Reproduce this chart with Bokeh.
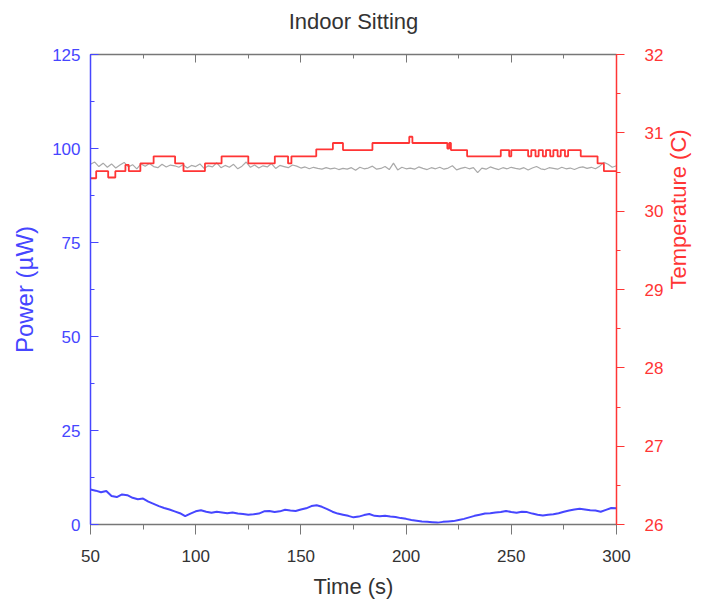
import math
import numpy as np
from bokeh.plotting import figure
from bokeh.models import Range1d, LinearAxis, SingleIntervalTicker, CustomJSTickFormatter
from bokeh.embed import file_html
from bokeh.resources import INLINE

# ---------------- data ----------------
title_text = "Indoor Sitting"
x_label = "Time (s)"
left_label = "Power (µW)"
right_label = "Temperature (C)"

# Power (uW), sampled every 2.5 s from 50 to 300 s
power_t = np.arange(50, 300.01, 2.5)
power_v = [9.3, 9.0, 8.6, 8.9, 7.6, 7.3, 8.0, 7.8, 7.1, 6.7,
           6.9, 6.1, 5.5, 4.9, 4.4, 4.0, 3.5, 3.0, 2.2, 2.9,
           3.5, 3.8, 3.4, 3.1, 3.4, 3.2, 3.0, 3.2, 2.9, 2.8,
           2.6, 2.7, 2.9, 3.5, 3.6, 3.3, 3.5, 3.9, 3.7, 3.6,
           4.0, 4.3, 4.9, 5.1, 4.7, 4.1, 3.4, 2.9, 2.6, 2.3,
           1.9, 2.1, 2.5, 2.8, 2.3, 2.2, 2.3, 2.1, 2.0, 1.7,
           1.5, 1.2, 1.0, 0.8, 0.7, 0.6, 0.5, 0.7, 0.8, 0.9,
           1.2, 1.5, 1.9, 2.3, 2.6, 2.9, 3.0, 3.2, 3.3, 3.6,
           3.3, 3.1, 3.4, 3.3, 2.9, 2.6, 2.4, 2.6, 2.7, 3.0,
           3.4, 3.7, 4.0, 4.2, 4.0, 3.8, 3.7, 3.4, 3.9, 4.4,
           4.3]

# Grey reference trace (left axis), sampled every 2 s from 50 to 300 s
grey_t = np.arange(50, 300.01, 2)
grey_v = [95.8, 96.4, 95.2, 96.1, 95.0, 95.9, 94.8, 95.6, 96.3, 95.1, 95.7, 94.6, 95.9, 95.3, 96.0, 95.2, 94.9, 95.8, 95.1, 95.6, 95.4,
          95.0, 95.7, 94.8, 95.5, 95.2, 95.9, 94.7, 95.4, 95.1, 96.2, 94.9, 95.5, 95.0, 95.8, 94.6, 95.3, 96.4, 95.0, 95.6, 94.8,
          95.4, 95.1, 96.0, 94.7, 95.5, 95.2, 94.9, 95.6, 95.3, 94.8, 95.1, 94.6, 95.0, 94.7, 94.5, 94.9, 94.6, 94.8, 94.4, 94.7,
          94.5, 94.9, 94.2, 95.0, 94.6, 94.8, 95.3, 94.5, 94.7, 95.2, 94.4, 96.1, 94.3, 95.0, 94.6, 94.8, 94.5, 95.1, 94.7, 94.4,
          94.9, 94.6, 95.0, 94.5, 94.8, 95.4, 94.3, 94.7, 95.0, 94.6, 94.9, 93.6, 94.8, 94.5, 95.1, 94.7, 94.4, 94.9, 94.6, 95.0,
          94.7, 94.5, 94.9, 94.3, 94.8, 95.2, 94.6, 94.4, 94.9, 94.7, 94.5, 95.0, 94.6, 94.8, 94.4, 94.9, 95.1, 94.7, 95.0, 94.6,
          95.3, 96.3, 95.8, 95.0, 95.4]

# Temperature (C): step change points
temp_t = [50, 52.7, 58.4, 61.8, 66.6, 68.2, 73.7, 80, 90.2, 94.2,
          104.4, 112.3, 125, 137.6, 143.9, 145.5, 157.3, 165.2, 170, 184,
          201.5, 203, 219.6, 220.5, 221.3, 229, 245, 249, 250, 258,
          259.5, 261.5, 263, 265, 266.5, 268.5, 270, 272, 273.5, 275.5,
          277, 283, 291, 294, 300]
temp_v = [30.42, 30.51, 30.43, 30.51, 30.59, 30.51, 30.61, 30.70, 30.61, 30.51,
          30.61, 30.70, 30.61, 30.70, 30.61, 30.70, 30.79, 30.87, 30.78, 30.87,
          30.95, 30.87, 30.80, 30.87, 30.78, 30.70, 30.78, 30.70, 30.78, 30.70,
          30.78, 30.70, 30.78, 30.70, 30.78, 30.70, 30.78, 30.70, 30.78, 30.70,
          30.78, 30.70, 30.61, 30.51, 30.51]

# ---------------- style ----------------
FONT = "Liberation Sans"
BLUE = "#4646ff"
RED = "#ff3535"
GREY_AX = "#777777"
TXT = "#333333"

p = figure(width=706, height=604,
           x_range=Range1d(50, 300), y_range=Range1d(0, 125),
           output_backend="svg", toolbar_location=None,
           x_axis_location=None, y_axis_location=None,
           min_border_left=90, min_border_right=88,
           min_border_top=54, min_border_bottom=80)
p.extra_y_ranges = {"temp": Range1d(26, 32)}
p.grid.grid_line_color = None
p.outline_line_color = None
p.background_fill_color = "white"
p.border_fill_color = "white"

# bottom axis
xb = LinearAxis(ticker=SingleIntervalTicker(interval=50, num_minor_ticks=2),
                axis_label=x_label)
xb.axis_line_color = GREY_AX
xb.axis_line_width = 1.5
xb.major_tick_line_color = GREY_AX
xb.minor_tick_line_color = GREY_AX
xb.major_tick_in = 0
xb.major_tick_out = 10
xb.minor_tick_in = 0
xb.minor_tick_out = 5
xb.major_label_text_font = FONT
xb.major_label_text_font_size = "17px"
xb.major_label_text_color = TXT
xb.major_label_standoff = 15
xb.axis_label_text_font = FONT
xb.axis_label_text_font_size = "22px"
xb.axis_label_text_font_style = "normal"
xb.axis_label_text_color = TXT
xb.axis_label_standoff = 9
p.add_layout(xb, "below")

# top axis: ticks only, chart title carried as its label
xt = LinearAxis(ticker=SingleIntervalTicker(interval=50, num_minor_ticks=2),
                formatter=CustomJSTickFormatter(code="return ''"),
                axis_label=title_text)
xt.axis_line_color = GREY_AX
xt.axis_line_width = 1.5
xt.major_tick_line_color = GREY_AX
xt.minor_tick_line_color = GREY_AX
xt.major_tick_in = 8
xt.major_tick_out = 0
xt.minor_tick_in = 4
xt.minor_tick_out = 0
xt.major_label_standoff = 0
xt.major_label_text_font_size = "1px"
xt.axis_label_text_font = FONT
xt.axis_label_text_font_size = "22px"
xt.axis_label_text_font_style = "normal"
xt.axis_label_text_color = TXT
xt.axis_label_standoff = 21
p.add_layout(xt, "above")

# left axis (power)
yl = LinearAxis(ticker=SingleIntervalTicker(interval=25, num_minor_ticks=2),
                axis_label=left_label)
yl.axis_line_color = BLUE
yl.axis_line_width = 1.5
yl.major_tick_line_color = BLUE
yl.minor_tick_line_color = BLUE
yl.major_tick_in = 8
yl.major_tick_out = 0
yl.minor_tick_in = 4
yl.minor_tick_out = 0
yl.major_label_text_font = FONT
yl.major_label_text_font_size = "17px"
yl.major_label_text_color = BLUE
yl.major_label_standoff = 10
yl.axis_label_text_font = FONT
yl.axis_label_text_font_size = "24px"
yl.axis_label_text_font_style = "normal"
yl.axis_label_text_color = BLUE
yl.axis_label_standoff = 11
p.add_layout(yl, "left")

# right axis (temperature)
yr = LinearAxis(y_range_name="temp",
                ticker=SingleIntervalTicker(interval=1, num_minor_ticks=2),
                axis_label=right_label)
yr.axis_line_color = RED
yr.axis_line_width = 1.5
yr.major_tick_line_color = RED
yr.minor_tick_line_color = RED
yr.major_tick_in = 0
yr.major_tick_out = 8
yr.minor_tick_in = 0
yr.minor_tick_out = 4
yr.major_label_text_font = FONT
yr.major_label_text_font_size = "17px"
yr.major_label_text_color = RED
yr.major_label_standoff = 20
yr.axis_label_text_font = FONT
yr.axis_label_text_font_size = "22px"
yr.axis_label_text_font_style = "normal"
yr.axis_label_text_color = RED
yr.axis_label_standoff = 12
try:
    yr.axis_label_orientation = math.pi / 2
except Exception:
    pass
p.add_layout(yr, "right")

# ---------------- data glyphs ----------------
p.line(grey_t, grey_v, line_color="#a9a9a9", line_width=1.2)
p.step(temp_t, temp_v, y_range_name="temp", mode="after",
       line_color=RED, line_width=1.8)
p.line(power_t, power_v, line_color=BLUE, line_width=2)

open("out.html", "w").write(file_html(p, INLINE))
